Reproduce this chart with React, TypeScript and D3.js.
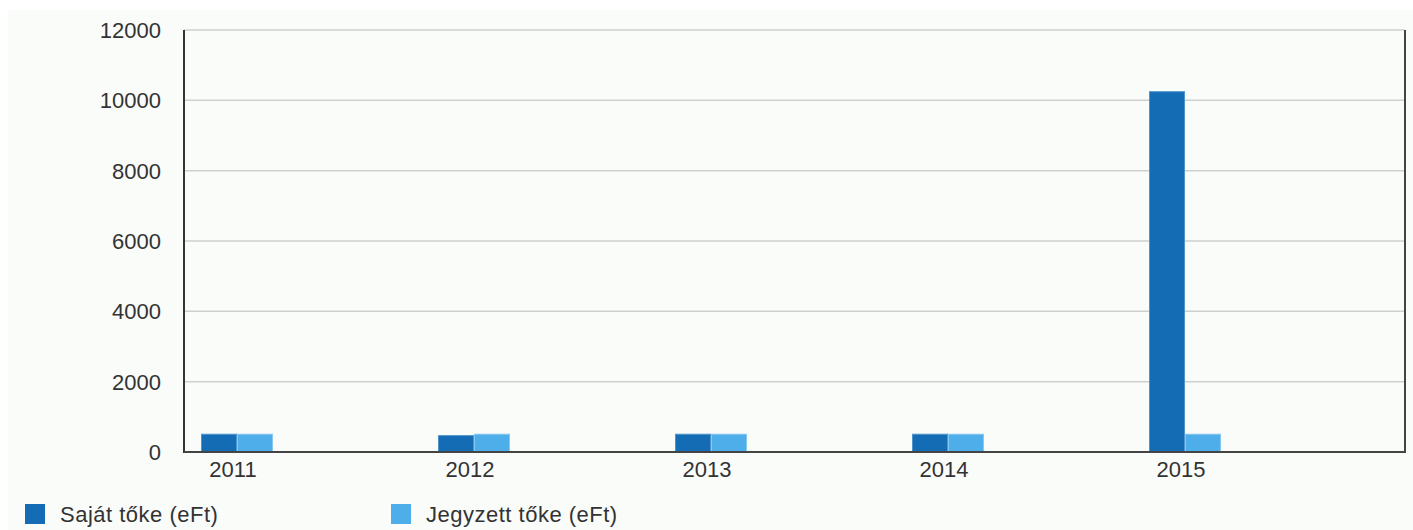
import React, { useEffect, useRef } from 'react';
import * as d3 from 'd3';

const years = ['2011', '2012', '2013', '2014', '2015'];
const sajatToke = [520, 480, 520, 520, 10260];
const jegyzettToke = [520, 520, 520, 520, 520];
const seriesNames = ['Saját tőke (eFt)', 'Jegyzett tőke (eFt)'];
const seriesColors = ['#146db4', '#4daeea'];
const seriesStrokes = ['#4f95cc', '#86c8f0'];
const yTicks = [0, 2000, 4000, 6000, 8000, 10000, 12000];

const W = 1413;
const H = 530;
const FONT = '"Liberation Sans", Arial, sans-serif';

const App: React.FC = () => {
    const svgRef = useRef<SVGSVGElement>(null);

    useEffect(() => {
        if (!svgRef.current) return;
        const svg = d3.select(svgRef.current);
        svg.selectAll('*').remove();

        const left = 184, right = 1405, top = 30, bottom = 452;

        // page-ish background
        svg.append('rect').attr('x', 0).attr('y', 0).attr('width', W).attr('height', H).attr('fill', '#ffffff');
        svg.append('rect').attr('x', 8).attr('y', 10).attr('width', W - 8).attr('height', H - 10).attr('fill', '#fafcfa');

        const y = d3.scaleLinear().domain([0, 12000]).range([bottom, top]);
        const x = d3.scaleBand<string>()
            .domain(years)
            .range([201, 1221])
            .paddingInner(1 - 72 / 237)
            .paddingOuter(0);
        const x1 = d3.scaleBand<number>()
            .domain([0, 1])
            .range([0, x.bandwidth()]);

        // gridlines
        svg.append('g')
            .selectAll('line')
            .data(yTicks.filter(t => t > 0))
            .enter()
            .append('line')
            .attr('x1', left)
            .attr('x2', right)
            .attr('y1', d => y(d))
            .attr('y2', d => y(d))
            .style('stroke', '#cfcfcf')
            .style('stroke-width', '1.5px');

        // y labels
        svg.append('g')
            .selectAll('text')
            .data(yTicks)
            .enter()
            .append('text')
            .attr('x', 161)
            .attr('y', d => y(d))
            .attr('dy', '0.36em')
            .attr('text-anchor', 'end')
            .style('font-family', FONT)
            .style('font-size', '22px')
            .style('fill', '#333')
            .text(d => String(d));

        // bars
        const allSeries = [sajatToke, jegyzettToke];
        allSeries.forEach((values, s) => {
            svg.append('g')
                .selectAll('rect')
                .data(values)
                .enter()
                .append('rect')
                .attr('x', (_, i) => (x(years[i]) ?? 0) + (x1(s) ?? 0) + 0.5)
                .attr('y', d => y(d) + 0.5)
                .attr('width', x1.bandwidth() - 1)
                .attr('height', d => bottom - y(d) - 0.5)
                .style('fill', seriesColors[s])
                .style('stroke', seriesStrokes[s])
                .style('stroke-width', 1);
        });

        // axes frame
        svg.append('line').attr('x1', left).attr('x2', left).attr('y1', top).attr('y2', bottom + 1)
            .style('stroke', '#333').style('stroke-width', '2px');
        svg.append('line').attr('x1', left).attr('x2', right + 1).attr('y1', bottom).attr('y2', bottom)
            .style('stroke', '#444').style('stroke-width', '2px');
        svg.append('line').attr('x1', right).attr('x2', right).attr('y1', top).attr('y2', bottom)
            .style('stroke', '#444').style('stroke-width', '2px');

        // x labels
        svg.append('g')
            .selectAll('text')
            .data(years)
            .enter()
            .append('text')
            .attr('x', d => (x(d) ?? 0) + x.bandwidth() / 2 - 4)
            .attr('y', 477)
            .attr('text-anchor', 'middle')
            .style('font-family', FONT)
            .style('font-size', '22px')
            .style('fill', '#333')
            .text(d => d);

        // legend
        const legendX = [25, 391];
        const legend = svg.append('g')
            .selectAll('g')
            .data(seriesNames)
            .enter()
            .append('g')
            .attr('transform', (_, i) => `translate(${legendX[i]},504)`);
        legend.append('rect')
            .attr('width', 20)
            .attr('height', 20)
            .style('fill', (_, i) => seriesColors[i]);
        legend.append('text')
            .attr('x', 35)
            .attr('y', 18)
            .style('font-family', FONT)
            .style('font-size', '22px')
            .style('letter-spacing', '0.5px')
            .style('fill', '#333')
            .text(d => d);
    }, []);

    return (
        <svg
            ref={svgRef}
            width={W}
            height={H}
            style={{ position: 'absolute', left: 0, top: 0, display: 'block' }}
        />
    );
};

export default App;
